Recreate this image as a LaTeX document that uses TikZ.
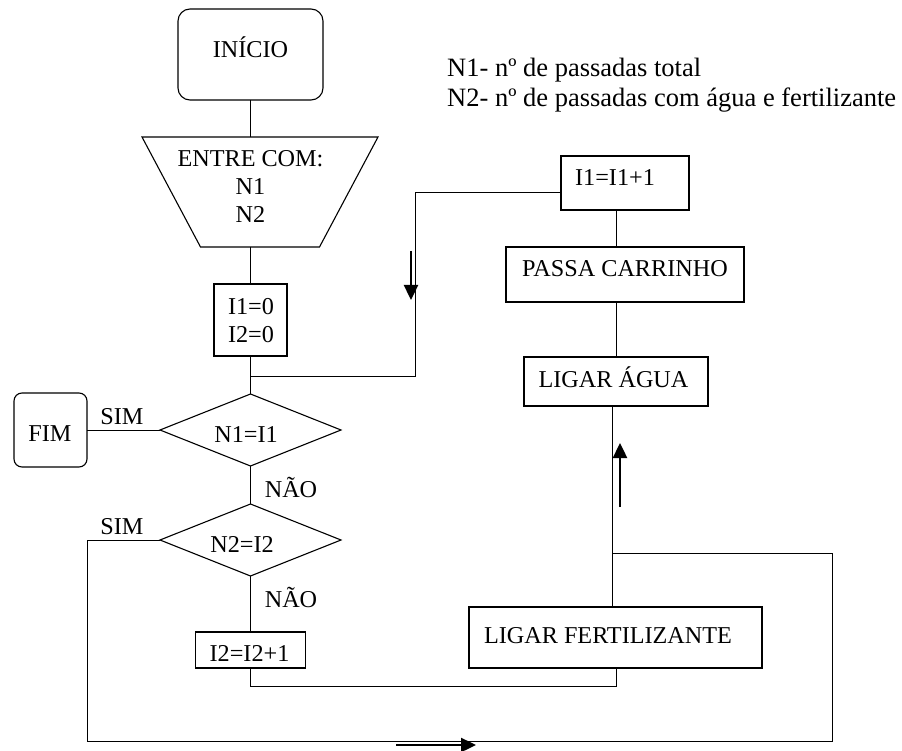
\documentclass[tikz,border=0pt]{standalone}
\usepackage{fontspec}
\setmainfont{Liberation Serif}
\usetikzlibrary{shapes.geometric,arrows.meta}
\begin{document}
\begin{tikzpicture}[x=1pt,y=-1pt,
  shp/.style={draw, line width=1.1pt, inner sep=0pt, outer sep=0pt},
  boxn/.style={shp, rectangle},
  rbox/.style={shp, rectangle, rounded corners=#1},
  dec/.style={shp, diamond, aspect=2.5, minimum width=181pt, minimum height=72pt},
  txt/.style={inner sep=0pt, anchor=base, font=\fontsize{24.2}{28}\selectfont},
  legtxt/.style={inner sep=0pt, anchor=base west, font=\fontsize{26.5}{30}\selectfont},
  ln/.style={line width=0.9pt},
  flow/.style={line width=2.4pt, -{Triangle[length=15pt,width=14pt]}}
]
\useasboundingbox (0,0) rectangle (902,751);

% shapes
\node[rbox=12pt, minimum width=145pt, minimum height=91pt] (inicio) at (250.5,54.5) {};
\node[txt] (inicioT) at (250.5,58) {INÍCIO};

\node[inner sep=0pt, outer sep=0pt, minimum width=236pt, minimum height=110pt] (entrada) at (260,192) {};
\draw[shp] (entrada.north west) -- (entrada.north east) -- ([xshift=-58.5pt]entrada.south east) -- ([xshift=58.5pt]entrada.south west) -- cycle;
\node[txt] (entT1) at (250.5,167) {ENTRE COM:};
\node[txt] (entT2) at (250.5,195) {N1};
\node[txt] (entT3) at (250.5,223) {N2};

\node[boxn, minimum width=73pt, minimum height=72pt] (init) at (250.5,320) {};
\node[txt] (initT1) at (251,315) {I1=0};
\node[txt] (initT2) at (251,342) {I2=0};

\node[dec] (dec1) at (250.5,430) {};
\node[txt] (dec1T) at (246,442) {N1=I1};
\node[dec] (dec2) at (250.5,540) {};
\node[txt] (dec2T) at (242,552) {N2=I2};

\node[rbox=8pt, minimum width=73pt, minimum height=74pt] (fim) at (50.5,430) {};
\node[txt] (fimT) at (50,441) {FIM};

\node[boxn, minimum width=110pt, minimum height=36pt] (inc2) at (250.5,650) {};
\node[txt] (inc2T) at (249.5,661) {I2=I2+1};

\node[boxn, minimum width=128pt, minimum height=54pt] (incI1) at (625,183) {};
\node[txt] (incI1T) at (615,186) {I1=I1+1};

\node[boxn, minimum width=238pt, minimum height=55pt] (passa) at (625,274.5) {};
\node[txt] (passaT) at (625,277) {PASSA CARRINHO};

\node[boxn, minimum width=184pt, minimum height=49pt] (agua) at (616,381.5) {};
\node[txt] (aguaT) at (613.5,387) {LIGAR ÁGUA};

\node[boxn, minimum width=293pt, minimum height=61pt] (fert) at (615.5,637.5) {};
\node[txt] (fertT) at (608,643) {LIGAR FERTILIZANTE};

% labels
\node[txt] (sim1) at (122,424) {SIM};
\node[txt] (sim2) at (122,534) {SIM};
\node[txt] (nao1) at (291,497) {NÃO};
\node[txt] (nao2) at (291,607) {NÃO};

% legend
\node[legtxt] (leg1) at (447,77) {N1- nº de passadas total};
\node[legtxt] (leg2) at (447,107) {N2- nº de passadas com água e fertilizante};

% connectors
\coordinate (xv) at (616,0);
\coordinate (j1) at (250.5,376);
\coordinate (c1) at (415,376);
\coordinate (c2) at (415,192);
\coordinate (j3) at (612,553);
\coordinate (b1) at (87,741);
\coordinate (b2) at (832,741);
\coordinate (b3) at (250.5,686);

\draw[ln] (inicio.south) -- (inicio.south |- entrada.north);
\draw[ln] (init.north |- entrada.south) -- (init.north);
\draw[ln] (init.south) -- (dec1.north);
\draw[ln] (j1) -- (c1) -- (c2) -- (c2 -| incI1.west);
\draw[ln] (incI1.south -| xv) -- (passa.north -| xv);
\draw[ln] (passa.south -| xv) -- (agua.north -| xv);
\draw[ln] (agua.south -| j3) -- (fert.north -| j3);
\draw[ln] (dec1.west) -- (fim.east);
\draw[ln] (dec1.south) -- (dec2.north);
\draw[ln] (dec2.south) -- (inc2.north);
\draw[ln] (dec2.west) -| (b1) -- (b2) |- (j3);
\draw[ln] (inc2.south) -- (b3) -| (fert.south -| xv);

% flow arrows
\coordinate (a1s) at (411,251);
\coordinate (a1e) at (411,300);
\coordinate (a2s) at (620,507);
\coordinate (a2e) at (620,443);
\coordinate (a3s) at (396,745);
\coordinate (a3e) at (476,745);
\draw[flow] (a1s) -- (a1e);
\draw[flow] (a2s) -- (a2e);
\draw[flow] (a3s) -- (a3e);
\end{tikzpicture}
\end{document}
